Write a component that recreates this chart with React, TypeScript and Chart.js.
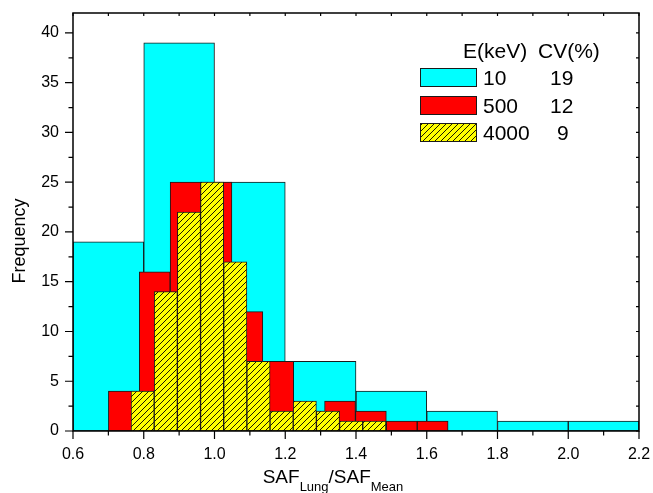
import React, { useEffect, useRef } from 'react';
import { Chart, registerables } from 'chart.js';

Chart.register(...registerables);

// ---- data ----
const cyanCenters = [0.7, 0.9, 1.1, 1.3, 1.5, 1.7, 1.9, 2.1];
const cyanCounts = [19, 39, 25, 7, 4, 2, 1, 1];

const redCenters = [0.7437, 0.831, 0.9183, 1.0056, 1.0929, 1.1802, 1.2675, 1.3548, 1.4421, 1.5294, 1.6167];
const redCounts = [4, 16, 25, 25, 12, 7, 2, 3, 2, 1, 1];

const yellowCenters = [0.7968, 0.8623, 0.9278, 0.9933, 1.0588, 1.1243, 1.1898, 1.2553, 1.3208, 1.3863, 1.4518];
const yellowCounts = [4, 14, 22, 25, 17, 7, 2, 3, 2, 1, 1];

const legendHeader = ['E(keV)', 'CV(%)'];
const legendRows = [
  ['10', '19'],
  ['500', '12'],
  ['4000', '9'],
];
const yTitle = 'Frequency';
const xTitleParts = [
  { t: 'SAF', sub: false },
  { t: 'Lung', sub: true },
  { t: '/SAF', sub: false },
  { t: 'Mean', sub: true },
];

const FONT = '"Liberation Sans", Arial, Helvetica, sans-serif';
const CYAN = '#00FFFF';
const RED = '#FF0000';
const YELLOW = '#FFFF00';
const EDGE = '#1a1a1a';

function makeHatch(ctx: CanvasRenderingContext2D): CanvasPattern | string {
  const pc = document.createElement('canvas');
  pc.width = 6;
  pc.height = 6;
  const p = pc.getContext('2d');
  if (!p) return YELLOW;
  p.fillStyle = YELLOW;
  p.fillRect(0, 0, 6, 6);
  p.strokeStyle = '#000';
  p.lineWidth = 0.9;
  p.beginPath();
  p.moveTo(-1, 7);
  p.lineTo(7, -1);
  p.moveTo(-1, 1);
  p.lineTo(1, -1);
  p.moveTo(5, 7);
  p.lineTo(7, 5);
  p.stroke();
  return ctx.createPattern(pc, 'repeat') || YELLOW;
}

export default function App() {
  const ref = useRef<HTMLCanvasElement | null>(null);

  useEffect(() => {
    const canvas = ref.current;
    if (!canvas) return;
    const ctx0 = canvas.getContext('2d');
    if (!ctx0) return;
    const hatch = makeHatch(ctx0);

    const framePlugin = {
      id: 'framePlugin',
      afterDatasetsDraw(chart: any) {
        const ctx = chart.ctx as CanvasRenderingContext2D;
        const { left, right, top, bottom } = chart.chartArea;
        const xs = chart.scales.x;
        const ys = chart.scales.y;
        ctx.save();
        ctx.strokeStyle = '#000';
        ctx.lineWidth = 1.5;
        ctx.strokeRect(left, top, right - left, bottom - top);

        ctx.lineWidth = 1.2;
        ctx.beginPath();
        // x ticks
        const xt = xs.ticks.map((t: any) => t.value);
        for (let i = 0; i < xt.length; i++) {
          const px = xs.getPixelForValue(xt[i]);
          ctx.moveTo(px, bottom);
          ctx.lineTo(px, bottom + 8);
          ctx.moveTo(px, top);
          ctx.lineTo(px, top + 3);
          if (i < xt.length - 1) {
            const mx = xs.getPixelForValue((xt[i] + xt[i + 1]) / 2);
            ctx.moveTo(mx, bottom);
            ctx.lineTo(mx, bottom + 4.5);
            ctx.moveTo(mx, top);
            ctx.lineTo(mx, top + 3);
          }
        }
        // y ticks
        const yt = ys.ticks.map((t: any) => t.value);
        for (let i = 0; i < yt.length; i++) {
          const py = ys.getPixelForValue(yt[i]);
          ctx.moveTo(left, py);
          ctx.lineTo(left - 8, py);
          ctx.moveTo(right, py);
          ctx.lineTo(right - 3, py);
          const mid = yt[i] + (i < yt.length - 1 ? (yt[i + 1] - yt[i]) / 2 : (yt[1] - yt[0]) / 2);
          if (mid < ys.max) {
            const my = ys.getPixelForValue(mid);
            ctx.moveTo(left, my);
            ctx.lineTo(left - 4.5, my);
            ctx.moveTo(right, my);
            ctx.lineTo(right - 3, my);
          }
        }
        ctx.stroke();
        ctx.restore();
      },
      afterDraw(chart: any) {
        const ctx = chart.ctx as CanvasRenderingContext2D;
        ctx.save();
        ctx.fillStyle = '#000';
        ctx.textBaseline = 'alphabetic';
        ctx.textAlign = 'left';

        // legend
        ctx.font = `21px ${FONT}`;
        ctx.fillText(legendHeader[0], 463, 58);
        ctx.fillText(legendHeader[1], 538, 58);
        const fills: any[] = [CYAN, RED, hatch];
        const rowTop = [68, 96, 123];
        const secondX = [550, 550, 557];
        for (let i = 0; i < legendRows.length; i++) {
          ctx.fillStyle = fills[i];
          ctx.fillRect(420, rowTop[i], 56, 18);
          ctx.strokeStyle = EDGE;
          ctx.lineWidth = 1;
          ctx.strokeRect(420.5, rowTop[i] + 0.5, 56, 18);
          ctx.fillStyle = '#000';
          ctx.fillText(legendRows[i][0], 483, rowTop[i] + 16.5);
          ctx.fillText(legendRows[i][1], secondX[i], rowTop[i] + 16.5);
        }

        // x title with subscripts
        const bigF = `19px ${FONT}`;
        const smallF = `13px ${FONT}`;
        let total = 0;
        for (const p of xTitleParts) {
          ctx.font = p.sub ? smallF : bigF;
          total += ctx.measureText(p.t).width;
        }
        let x = 333 - total / 2;
        for (const p of xTitleParts) {
          ctx.font = p.sub ? smallF : bigF;
          ctx.fillText(p.t, x, p.sub ? 491 : 483);
          x += ctx.measureText(p.t).width;
        }

        // y title
        ctx.translate(25, 241);
        ctx.rotate(-Math.PI / 2);
        ctx.font = `18px ${FONT}`;
        ctx.textAlign = 'center';
        ctx.fillText(yTitle, 0, 0);
        ctx.restore();
      },
    };

    const hiddenX = {
      type: 'linear' as const,
      display: false,
      min: 0.6,
      max: 2.2,
      offset: false,
      ticks: { stepSize: 1.6 },
    };

    const chart = new Chart(canvas, {
      type: 'bar',
      data: {
        datasets: [
          {
            label: '4000',
            data: yellowCenters.map((c, i) => ({ x: c, y: yellowCounts[i] })),
            xAxisID: 'x3',
            backgroundColor: hatch as any,
            borderColor: EDGE,
            borderWidth: 1,
            borderSkipped: false,
            grouped: false,
            barPercentage: 1,
            categoryPercentage: 1,
          },
          {
            label: '500',
            data: redCenters.map((c, i) => ({ x: c, y: redCounts[i] })),
            xAxisID: 'x2',
            backgroundColor: RED,
            borderColor: EDGE,
            borderWidth: 1,
            borderSkipped: false,
            grouped: false,
            barPercentage: 1,
            categoryPercentage: 1,
          },
          {
            label: '10',
            data: cyanCenters.map((c, i) => ({ x: c, y: cyanCounts[i] })),
            xAxisID: 'x',
            backgroundColor: CYAN,
            borderColor: EDGE,
            borderWidth: 1,
            borderSkipped: false,
            grouped: false,
            barPercentage: 1,
            categoryPercentage: 1,
          },
        ] as any,
      },
      options: {
        responsive: false,
        animation: false,
        events: [],
        layout: { padding: { top: 13, right: 14, left: 0, bottom: 0 } },
        plugins: {
          legend: { display: false },
          tooltip: { enabled: false },
          title: { display: false },
        },
        scales: {
          x: {
            type: 'linear',
            min: 0.6,
            max: 2.2,
            offset: false,
            grid: { display: false, drawTicks: false },
            border: { display: false },
            ticks: {
              stepSize: 0.2,
              padding: 14,
              color: '#000',
              font: { family: FONT, size: 16 },
              maxRotation: 0,
              autoSkip: false,
              callback: (v: any) => Number(v).toFixed(1),
            },
            afterFit: (s: any) => {
              s.height = 62;
              s.paddingLeft = 0;
              s.paddingRight = 0;
            },
          },
          x2: hiddenX,
          x3: hiddenX,
          y: {
            type: 'linear',
            min: 0,
            max: 42,
            grid: { display: false, drawTicks: false },
            border: { display: false },
            ticks: {
              stepSize: 5,
              includeBounds: false,
              padding: 14,
              color: '#000',
              font: { family: FONT, size: 16 },
            },
            afterFit: (s: any) => {
              s.width = 73;
              s.paddingTop = 0;
              s.paddingBottom = 0;
            },
          },
        } as any,
      },
      plugins: [framePlugin],
    });

    return () => {
      chart.destroy();
    };
  }, []);

  return (
    <div style={{ position: 'absolute', left: 0, top: 0, width: 653, height: 493, background: '#fff' }}>
      <canvas ref={ref} width={653} height={493} style={{ display: 'block' }} />
    </div>
  );
}
